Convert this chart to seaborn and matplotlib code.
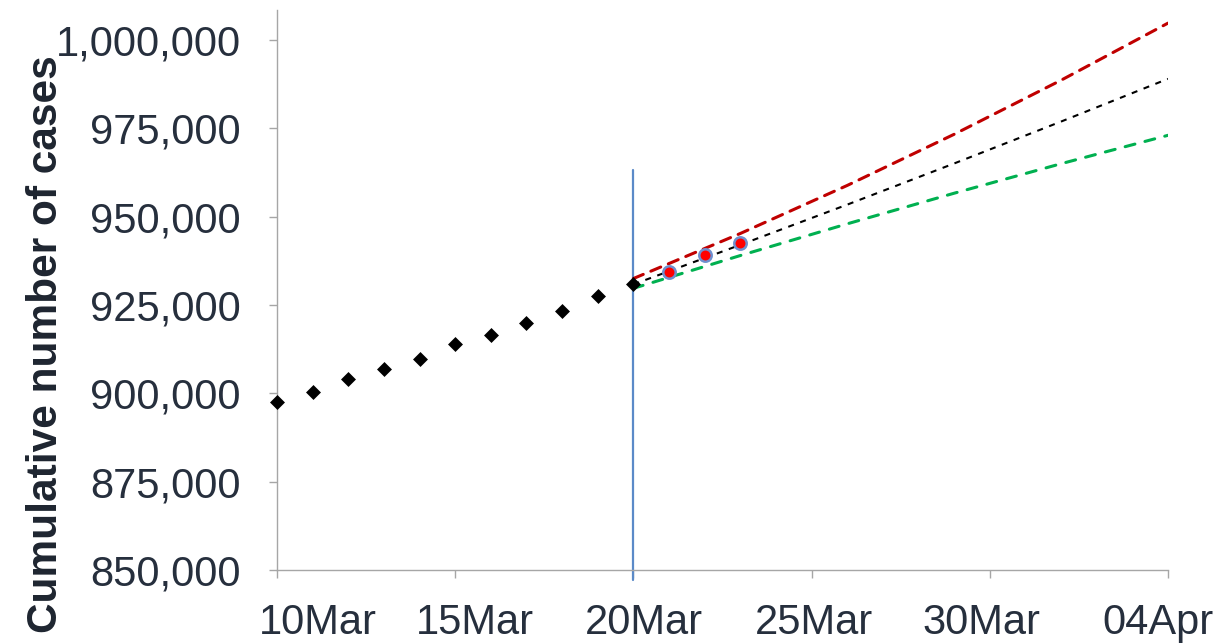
import numpy as np
import pandas as pd
import matplotlib
matplotlib.use("Agg")
import matplotlib.pyplot as plt
import matplotlib.dates as mdates
from matplotlib.transforms import ScaledTranslation
import seaborn as sns

# ---- data ----
obs_dates = ["2020-03-10", "2020-03-11", "2020-03-12", "2020-03-13", "2020-03-14",
             "2020-03-15", "2020-03-16", "2020-03-17", "2020-03-18", "2020-03-19",
             "2020-03-20"]
obs_cases = [897600, 900450, 904050, 906900, 909700, 913850, 916400, 919900,
             923300, 927600, 930850]

new_dates = ["2020-03-21", "2020-03-22", "2020-03-23"]
new_cases = [934250, 939050, 942550]

proj_dates = ["2020-03-20", "2020-03-23", "2020-03-26", "2020-03-29", "2020-04-01", "2020-04-04"]
proj_upper = [932500, 945250, 958850, 973330, 988630, 1004790]
proj_central = [930850, 942030, 953420, 965070, 976930, 989020]
proj_lower = [929730, 939010, 947980, 956650, 965000, 973040]

cutoff_date = "2020-03-20"
cutoff_span = [847200, 963200]

x_ticks = ["2020-03-10", "2020-03-15", "2020-03-20", "2020-03-25", "2020-03-30", "2020-04-04"]
y_ticks = [850000, 875000, 900000, 925000, 950000, 975000, 1000000]
y_limits = [850000, 1008500]
y_label = "Cumulative number of cases"

# layout: horizontal shift of each x tick label (pixels)
xlabel_shift_px = [41, 20, 11, 2, -8.5, -10]

# ---- style ----
sns.set_theme(style="white")
plt.rcParams["font.family"] = ["Liberation Sans", "DejaVu Sans"]

obs = pd.DataFrame({"date": pd.to_datetime(obs_dates), "cases": obs_cases})
new = pd.DataFrame({"date": pd.to_datetime(new_dates), "cases": new_cases})
proj = pd.DataFrame({"date": pd.to_datetime(proj_dates),
                     "upper": proj_upper, "central": proj_central, "lower": proj_lower})

fig = plt.figure(figsize=(12.23, 6.43), dpi=100)
ax = fig.add_axes([0.2265, 0.1135, 0.9550 - 0.2265, 0.9844 - 0.1135])

tick_col = "#262f3d"
axis_col = "#a6a6a6"

# cutoff line
cd = pd.to_datetime(cutoff_date)
ax.plot([cd, cd], cutoff_span, color="#5b8ac8", lw=1.6, clip_on=False, zorder=2)

# projections
sns.lineplot(data=proj, x="date", y="upper", ax=ax, color="#c00000", lw=2.2, zorder=3)
ax.lines[-1].set_dashes((3.5, 2.7))
ax.lines[-1].set_dash_capstyle("round")
sns.lineplot(data=proj, x="date", y="lower", ax=ax, color="#00b050", lw=2.2, zorder=3)
ax.lines[-1].set_dashes((3.3, 3.4))
ax.lines[-1].set_dash_capstyle("round")
sns.lineplot(data=proj, x="date", y="central", ax=ax, color="black", lw=1.5, zorder=3)
ax.lines[-1].set_dashes((2.9, 3.2))

# observed
sns.scatterplot(data=obs, x="date", y="cases", ax=ax, marker="D", s=58,
                color="black", edgecolor="black", linewidth=0, zorder=4, clip_on=False)
sns.scatterplot(data=new, x="date", y="cases", ax=ax, marker="o", s=80,
                color="#ff0000", edgecolor="#6f8fcf", linewidth=1.8, zorder=5)

# axes
ax.set_xlim(pd.to_datetime(x_ticks[0]), pd.to_datetime(x_ticks[-1]))
ax.set_ylim(*y_limits)
ax.set_xticks(pd.to_datetime(x_ticks))
ax.xaxis.set_major_formatter(mdates.DateFormatter("%d%b"))
ax.set_yticks(y_ticks)
ax.set_yticklabels([f"{v:,}" for v in y_ticks])
ax.set_xlabel("")
ax.set_ylabel(y_label, fontsize=30.5, fontweight="bold", color="#1e2530")
ax.yaxis.set_label_coords(-0.237, 0.404)

for s in ["top", "right"]:
    ax.spines[s].set_visible(False)
for s in ["left", "bottom"]:
    ax.spines[s].set_color(axis_col)
    ax.spines[s].set_linewidth(1.0)

ax.tick_params(axis="x", which="major", direction="out", length=6, width=1,
               color=axis_col, labelsize=30, labelcolor=tick_col, pad=18, bottom=True)
ax.tick_params(axis="y", which="major", direction="out", length=6, width=1,
               color=axis_col, labelsize=30, labelcolor=tick_col, pad=20, left=True)
ax.grid(False)

for tick, dx in zip(ax.xaxis.get_major_ticks(), xlabel_shift_px):
    lab = tick.label1
    lab.set_transform(lab.get_transform() + ScaledTranslation(dx / fig.dpi, 0, fig.dpi_scale_trans))

fig.savefig("out.png", dpi=100)
